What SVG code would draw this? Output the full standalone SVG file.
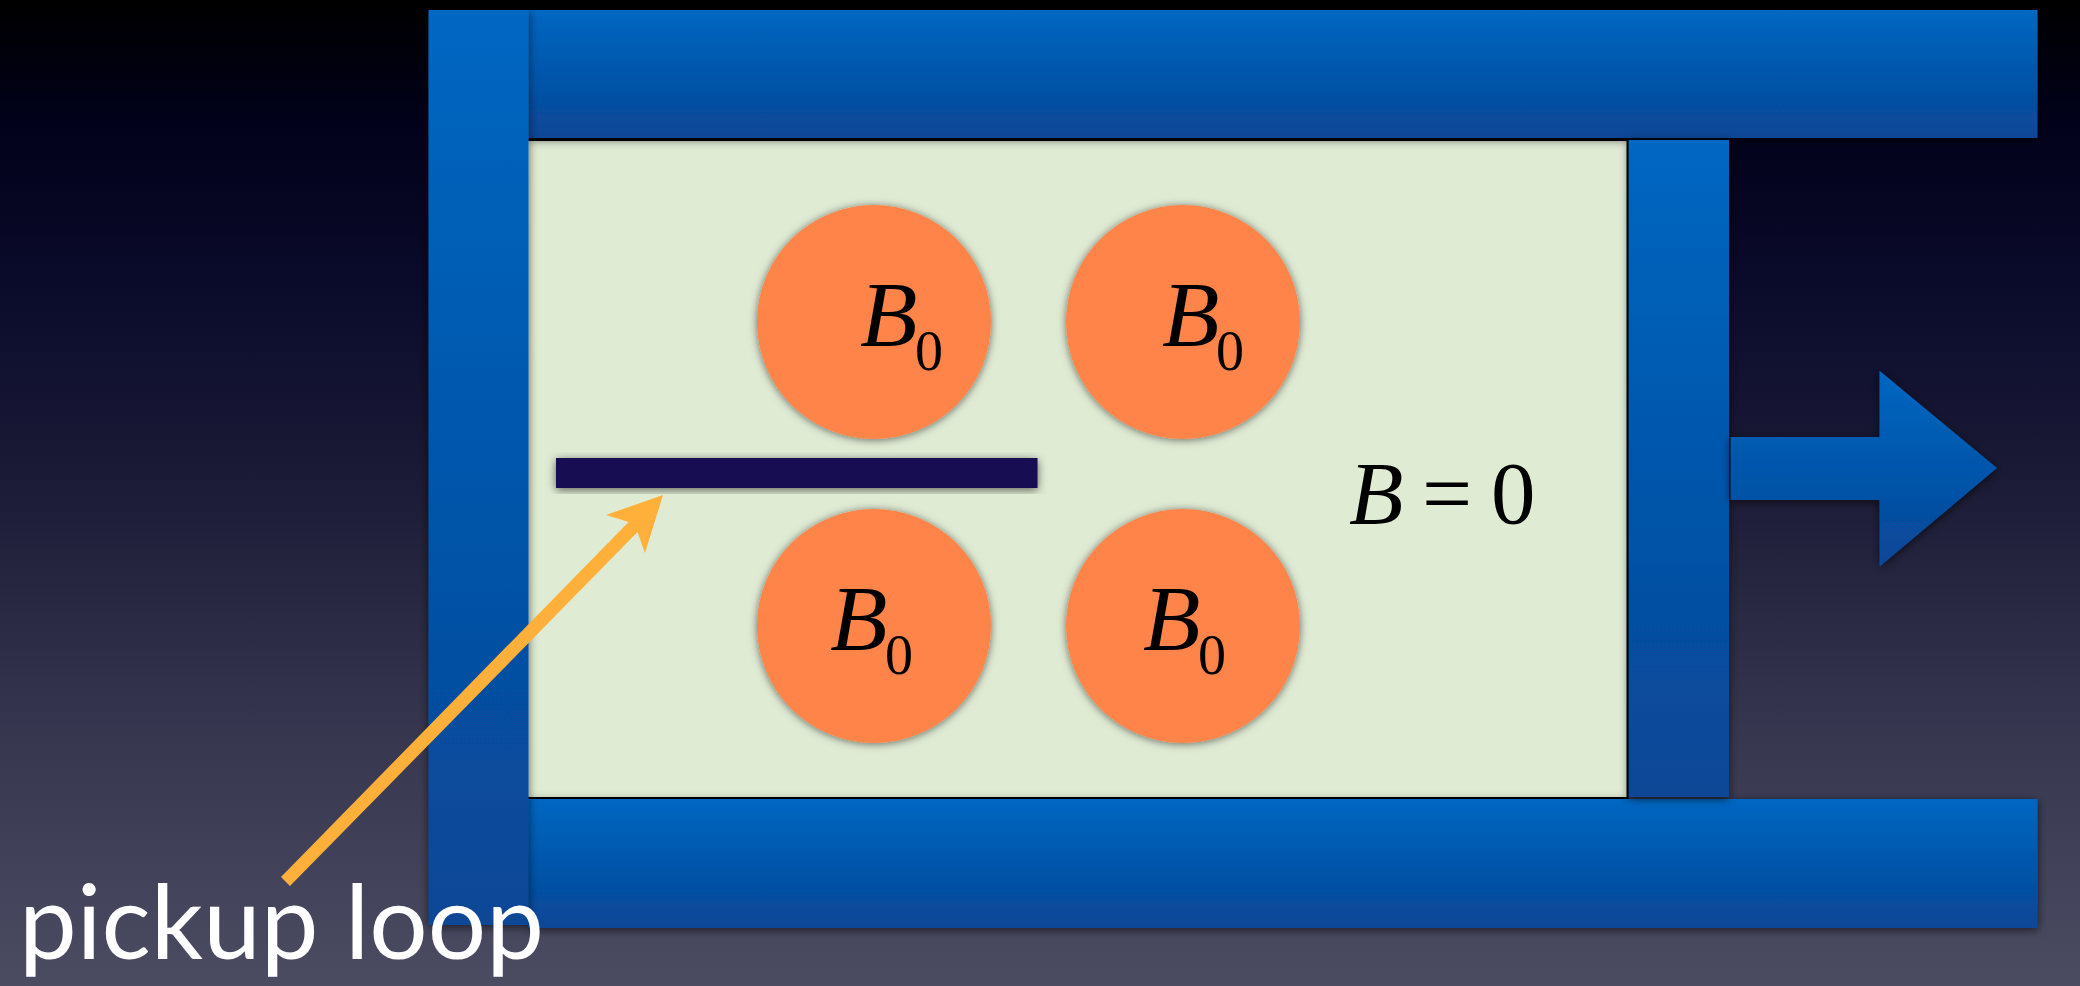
<svg xmlns="http://www.w3.org/2000/svg" width="2080" height="986" viewBox="0 0 2080 986">
<style>
.m{font-family:"Liberation Serif","Times New Roman",serif;fill:#000}
.i{font-style:italic;font-size:94px}
.s{font-size:56px}
.e{font-size:89px}
.bar{filter:url(#sh)}
.c{fill:#ff8448;filter:url(#sc)}
</style>
<defs>
<linearGradient id="bg" x1="0" y1="0" x2="0" y2="1">
<stop offset="0" stop-color="#000000"/><stop offset="0.12" stop-color="#01011a"/><stop offset="0.3" stop-color="#0b0b2c"/><stop offset="0.5" stop-color="#1c1c38"/><stop offset="0.75" stop-color="#373750"/><stop offset="1" stop-color="#4b4b62"/>
</linearGradient>
<linearGradient id="blue" x1="0" y1="0" x2="0" y2="1">
<stop offset="0" stop-color="#0067c2"/><stop offset="0.2" stop-color="#0060b8"/><stop offset="1" stop-color="#094696"/>
</linearGradient>
<filter id="sh" x="-20%" y="-20%" width="140%" height="140%"><feDropShadow dx="0" dy="2" stdDeviation="5" flood-color="#000" flood-opacity="0.6"/></filter>
<filter id="sc" x="-20%" y="-20%" width="140%" height="140%"><feDropShadow dx="0" dy="1" stdDeviation="4" flood-color="#000" flood-opacity="0.55"/></filter>
</defs>
<rect width="2080" height="986" fill="url(#bg)"/>
<g id="chamber">
<rect x="528" y="138" width="1101" height="661" fill="#000"/>
<rect x="528" y="141" width="1098.500" height="656" fill="#e0ebd4"/>
</g>
<g id="top-wall"><rect class="bar" x="528" y="10" width="1509.500" height="128" fill="url(#blue)"/></g>
<g id="bottom-wall"><rect class="bar" x="528" y="799" width="1509.500" height="129" fill="url(#blue)"/></g>
<g id="left-wall"><rect class="bar" x="428.500" y="10" width="100" height="915" fill="url(#blue)"/></g>
<g id="piston"><rect class="bar" x="1628.700" y="140" width="100.300" height="657" fill="url(#blue)"/></g>
<g id="motion-arrow"><path class="bar" d="M1730.700 437H1879.500V370.700L1997 468L1879.500 566.700V500H1730.700Z" fill="url(#blue)"/></g>
<g id="pickup-bar"><rect class="bar" x="556" y="458" width="481.500" height="30" fill="#190a52"/></g>
<g id="magnet-1"><circle class="c" cx="874" cy="322" r="117"/><text class="m i" x="860" y="346">B</text><text class="m s" x="915" y="370">0</text></g>
<g id="magnet-2"><circle class="c" cx="1183" cy="322" r="117"/><text class="m i" x="1162" y="346">B</text><text class="m s" x="1216" y="370">0</text></g>
<g id="magnet-3"><circle class="c" cx="874" cy="626" r="117"/><text class="m i" x="830" y="650">B</text><text class="m s" x="885" y="674">0</text></g>
<g id="magnet-4"><circle class="c" cx="1183" cy="626" r="117"/><text class="m i" x="1143" y="650">B</text><text class="m s" x="1198" y="674">0</text></g>
<g id="field-label"><text class="m e" x="1349" y="523" font-style="italic">B</text><text class="m e" x="1422" y="523">=</text><text class="m e" x="1491" y="523">0</text></g>
<g id="connectors"><path d="M281 877L628.600 522L606 515L663 495L645 553L637.500 532L290 886Z" fill="#ffb03b"/></g>
<g id="label"><text x="19" y="959" font-family="Lato,sans-serif" font-size="102" fill="#fff" textLength="525" lengthAdjust="spacingAndGlyphs">pickup loop</text></g>
</svg>
